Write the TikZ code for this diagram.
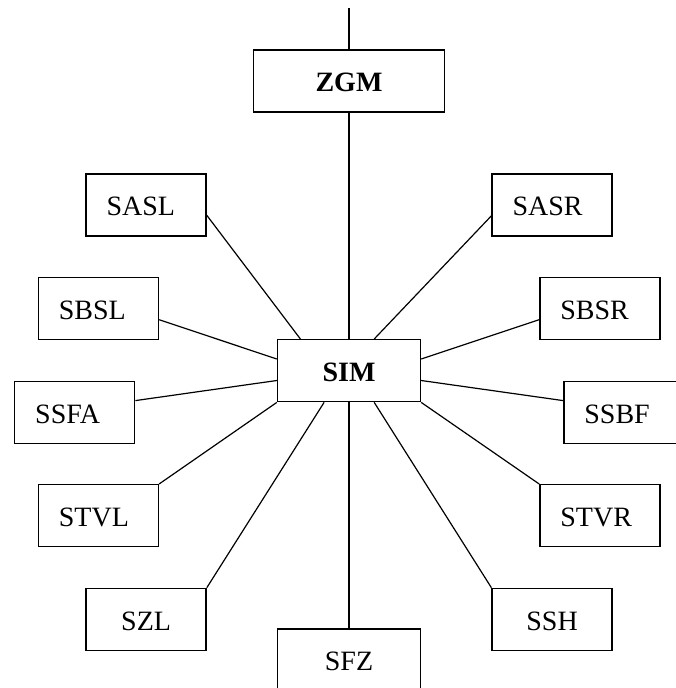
\documentclass[tikz,border=0pt]{standalone}
\usepackage{fontspec}
\setmainfont{Liberation Serif}
\usetikzlibrary{calc}
\begin{document}
\begin{tikzpicture}[x=1pt,y=-1pt,
  box/.style={draw, line width=1.4pt, inner sep=0pt, minimum height=62pt, text height=21.5pt, text depth=0pt, font=\fontsize{28}{33}\selectfont},
  lbox/.style={box, text width=79pt, inner xsep=20.5pt, align=left},
  cbox/.style={box, minimum width=120pt},
  wbox/.style={box, minimum width=143pt},
  link/.style={line width=1.2pt}]
\useasboundingbox (0,0) rectangle (675,688);
\node[box, minimum width=191pt] (ZGM) at (349,81) {\textbf{ZGM}};
\node[wbox] (SIM) at (349,370.7) {\textbf{SIM}};
\node[lbox] (SASL) at (146.1,205) {SASL};
\node[lbox] (SASR) at (552.1,205) {SASR};
\node[lbox] (SBSL) at (98.4,308.4) {SBSL};
\node[lbox] (SBSR) at (599.9,308.4) {SBSR};
\node[lbox] (SSFA) at (74.7,412.3) {SSFA};
\node[lbox] (SSBF) at (623.9,412.3) {SSBF};
\node[lbox] (STVL) at (98.4,515.7) {STVL};
\node[lbox] (STVR) at (599.9,515.7) {STVR};
\node[cbox] (SZL) at (146.1,619.4) {SZL};
\node[cbox] (SSH) at (552.1,619.4) {SSH};
\node[wbox] (SFZ) at (349,660) {SFZ};
\coordinate (top) at (349,8);
\draw[link] (top) -- (ZGM.north);
\draw[link] (ZGM.south) -- (SIM.north);
\draw[link] ($(SASL.north east)+(0,42)$) -- ($(SIM.north west)+(23.6,0)$);
\draw[link] ($(SASR.north west)+(0,42.5)$) -- ($(SIM.north east)+(-47,0)$);
\draw[link] ($(SBSL.north east)+(0,43)$) -- ($(SIM.north west)+(0,20)$);
\draw[link] ($(SBSR.north west)+(0,43)$) -- ($(SIM.north east)+(0,20)$);
\draw[link] ($(SSFA.north east)+(0,20)$) -- ($(SIM.north west)+(0,41.5)$);
\draw[link] ($(SSBF.north west)+(0,20)$) -- ($(SIM.north east)+(0,41.5)$);
\draw[link] (SIM.south west) -- (STVL.north east);
\draw[link] (SIM.south east) -- (STVR.north west);
\draw[link] ($(SIM.south west)+(47.3,0)$) -- (SZL.north east);
\draw[link] ($(SIM.south east)+(-47,0)$) -- (SSH.north west);
\draw[link] (SIM.south) -- (SFZ.north);
\end{tikzpicture}
\end{document}
